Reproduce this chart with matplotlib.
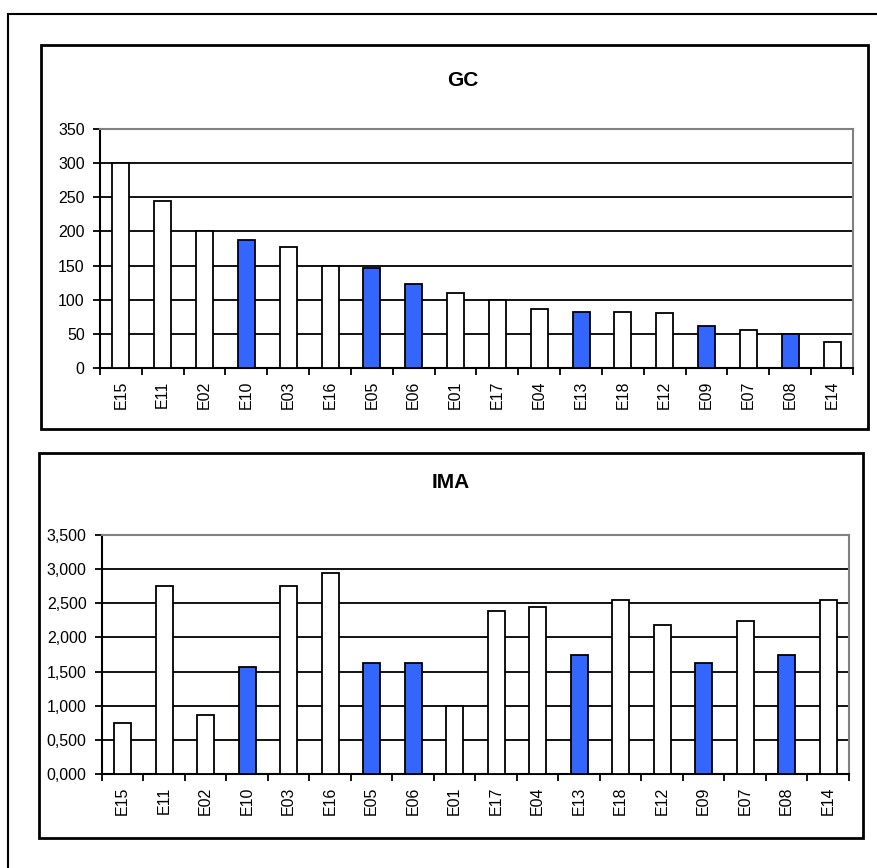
import matplotlib.pyplot as plt
from matplotlib.patches import Rectangle
from matplotlib.ticker import FuncFormatter, MultipleLocator
import numpy as np

plt.rcParams['font.family'] = ['Liberation Sans', 'DejaVu Sans']

# sites, in GC order
sites = ["E15", "E11", "E02", "E10", "E03", "E16", "E05", "E06", "E01",
         "E17", "E04", "E13", "E18", "E12", "E09", "E07", "E08", "E14"]
gc = [300, 245, 200, 188, 177, 150, 147, 123, 110,
      100, 86, 82, 82, 80, 62, 56, 50, 38]
ima = [0.75, 2.76, 0.87, 1.57, 2.76, 2.94, 1.62, 1.62, 1.00,
       2.39, 2.44, 1.75, 2.55, 2.18, 1.63, 2.24, 1.75, 2.55]
highlight = ["E10", "E05", "E06", "E13", "E09", "E08"]

W, H = 878, 868
fig = plt.figure(figsize=(W / 100, H / 100), dpi=100)

def fx(px):
    return px / W

def fy(py):
    return 1 - py / H

# outer frame and the two chart boxes
fig.patches.append(Rectangle((fx(8), fy(900)), fx(900), fy(14) - fy(900),
                             transform=fig.transFigure, fill=False,
                             edgecolor="black", lw=1.5))
for (x0, y0, x1, y1) in [(41, 45, 868, 429), (39, 453, 863, 838)]:
    fig.patches.append(Rectangle((fx(x0), fy(y1)), fx(x1) - fx(x0), fy(y0) - fy(y1),
                                 transform=fig.transFigure, fill=False,
                                 edgecolor="black", lw=2))

colors = ["#3366ff" if s in highlight else "white" for s in sites]
x = np.arange(len(sites))


def comma3(v, p):
    return f"{v:.3f}".replace(".", ",")


def draw(rect, values, top, step, fmt, title, title_xy):
    ax = fig.add_axes(rect)
    ax.bar(x, values, width=0.41, color=colors, edgecolor="black", lw=1.3, zorder=3)
    ax.set_xlim(-0.5, len(sites) - 0.5)
    ax.set_ylim(0, top)
    ax.yaxis.set_major_locator(MultipleLocator(step))
    ax.yaxis.set_major_formatter(FuncFormatter(fmt))
    ax.grid(axis="y", color="black", lw=1.3, zorder=0)
    ax.set_axisbelow(True)
    ax.set_xticks(x)
    ax.set_xticklabels(sites, rotation=90)
    ax.set_xticks(np.arange(len(sites) + 1) - 0.5, minor=True)
    ax.tick_params(axis="x", which="major", length=0, pad=9, labelsize=11.5)
    ax.tick_params(axis="x", which="minor", length=5, width=1.3, direction="out")
    ax.tick_params(axis="y", length=5, width=1.3, pad=6, labelsize=11.5)
    for side in ["left", "bottom"]:
        ax.spines[side].set_color("black")
        ax.spines[side].set_linewidth(1.5)
    for side in ["top", "right"]:
        ax.spines[side].set_color("#808080")
        ax.spines[side].set_linewidth(1.5)
    fig.text(fx(title_xy[0]), fy(title_xy[1]), title, ha="center", va="center",
             fontsize=15, fontweight="bold")
    return ax


draw([fx(100), fy(368), fx(853) - fx(100), fy(129) - fy(368)], gc, 350, 50,
     lambda v, p: f"{v:.0f}", "GC", (463, 80))
draw([fx(102), fy(774), fx(849) - fx(102), fy(535) - fy(774)], ima, 3.5, 0.5,
     comma3, "IMA", (451, 483))

fig.savefig("out.png", dpi=100)
